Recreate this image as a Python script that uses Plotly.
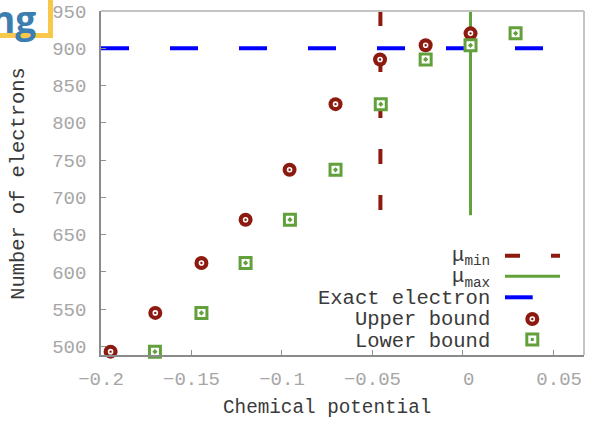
import plotly.graph_objects as go

# ---------------- data ----------------
mu_upper = [-0.1947, -0.1700, -0.1445, -0.1201, -0.0958, -0.0704, -0.0458, -0.0206, 0.0042]
n_upper = [493, 545, 612, 670, 737, 825, 885, 904, 920]
mu_lower = [-0.1702, -0.1445, -0.1201, -0.0956, -0.0704, -0.0454, -0.0206, 0.0042, 0.0291]
n_lower = [493, 545, 612, 670, 737, 825, 885, 904, 920]
mu_min = -0.0456
mu_min_span = [950, 681]
mu_max = 0.0042
mu_max_span = [950, 676]
exact_electrons = 900
x_range = [-0.2, 0.0669]
y_range = [488.5, 950]
x_ticks = [-0.2, -0.15, -0.1, -0.05, 0, 0.05]
x_ticktext = ["\u22120.2", "\u22120.15", "\u22120.1", "\u22120.05", "\u00a00", "\u00a00.05"]
y_ticks = [500, 550, 600, 650, 700, 750, 800, 850, 900, 950]
legend_labels = ["μ<sub>min</sub>", "μ<sub>max</sub>", "Exact electron", "Upper bound", "Lower bound"]

RED = "#8c1a0f"
GREEN = "#62a03c"
BLUE = "#0000ff"
FONT = "Liberation Mono, Courier New, monospace"
TXT = "#3a3a3a"
TICK = "#a6a6a6"

W, H = 615, 423
ML, MR, MT, MB = 101, 31, 11, 68
PW, PH = W - ML - MR, H - MT - MB


def px(xp):
    return (xp - ML) / PW


def py(yp):
    return (H - MB - yp) / PH


fig = go.Figure()

fig.add_trace(go.Scatter(x=[mu_min, mu_min], y=mu_min_span, mode="lines",
                         line=dict(color=RED, width=4, dash="15px,31px"), showlegend=False))
fig.add_trace(go.Scatter(x=[mu_max, mu_max], y=mu_max_span, mode="lines",
                         line=dict(color=GREEN, width=3), showlegend=False))
fig.add_trace(go.Scatter(x=x_range, y=[exact_electrons, exact_electrons], mode="lines",
                         line=dict(color=BLUE, width=4, dash="28px,41px"), showlegend=False))
fig.add_trace(go.Scatter(x=mu_upper, y=n_upper, mode="markers", cliponaxis=False,
                         marker=dict(symbol="circle", size=14, color=RED, line=dict(width=0)),
                         showlegend=False))
fig.add_trace(go.Scatter(x=mu_upper, y=n_upper, mode="markers", cliponaxis=False,
                         marker=dict(symbol="circle-open", size=4, color="white",
                                     line=dict(width=1.6, color="white")),
                         showlegend=False))
fig.add_trace(go.Scatter(x=mu_lower, y=n_lower, mode="markers", cliponaxis=False,
                         marker=dict(symbol="square-dot", size=11, color="white",
                                     line=dict(width=3, color=GREEN)),
                         showlegend=False))

shapes = []
annotations = []
# top / right borders (lighter)
shapes.append(dict(type="line", xref="paper", yref="paper", x0=0, x1=1, y0=1, y1=1,
                   line=dict(color="#c4c4c4", width=2)))
shapes.append(dict(type="line", xref="paper", yref="paper", x0=1, x1=1, y0=0, y1=1,
                   line=dict(color="#c4c4c4", width=2)))

# manual gnuplot-style legend (one right-aligned text block, rows ~21 px apart)
rows = [255.7, 276.3, 297.3, 319, 339.5]
text_right = 491.7
legend_text = "<br>".join("<span style='font-size:20.5px'>%s</span>" % lab for lab in legend_labels)
annotations.append(dict(text=legend_text, xref="paper", yref="paper", x=px(text_right),
                        y=py(sum(rows) / len(rows) + 0.5), xanchor="right", yanchor="middle",
                        align="right", showarrow=False,
                        font=dict(family=FONT, size=16.5, color=TXT)))
shapes.append(dict(type="line", xref="paper", yref="paper", x0=px(505), x1=px(560),
                   y0=py(rows[0]), y1=py(rows[0]), line=dict(color=RED, width=4, dash="15px,31px")))
shapes.append(dict(type="line", xref="paper", yref="paper", x0=px(505), x1=px(560),
                   y0=py(rows[1]), y1=py(rows[1]), line=dict(color=GREEN, width=3)))
shapes.append(dict(type="line", xref="paper", yref="paper", x0=px(505), x1=px(532.7),
                   y0=py(rows[2]), y1=py(rows[2]), line=dict(color=BLUE, width=4)))
cx, cy = 532.3, rows[3]
shapes.append(dict(type="circle", xref="paper", yref="paper", x0=px(cx - 7), x1=px(cx + 7),
                   y0=py(cy + 7), y1=py(cy - 7), fillcolor=RED, line=dict(width=0)))
shapes.append(dict(type="circle", xref="paper", yref="paper", x0=px(cx - 2), x1=px(cx + 2),
                   y0=py(cy + 2), y1=py(cy - 2), line=dict(color="white", width=1.6)))
sx, sy = 532.3, rows[4]
shapes.append(dict(type="rect", xref="paper", yref="paper", x0=px(sx - 5.5), x1=px(sx + 5.5),
                   y0=py(sy + 5.5), y1=py(sy - 5.5), fillcolor="white", line=dict(color=GREEN, width=3)))
shapes.append(dict(type="rect", xref="paper", yref="paper", x0=px(sx - 1.5), x1=px(sx + 1.5),
                   y0=py(sy + 1.5), y1=py(sy - 1.5), fillcolor=GREEN, line=dict(width=0)))

# logo fragment at top-left
shapes.append(dict(type="rect", xref="paper", yref="paper", x0=px(-20), x1=px(50.5),
                   y0=py(35.5), y1=py(-20), fillcolor="white", line=dict(color="#f8c84a", width=5)))
annotations.append(dict(text="<b>ng</b>", xref="paper", yref="paper", x=px(38), y=py(-9),
                        xanchor="right", yanchor="top", showarrow=False,
                        font=dict(family="Open Sans", size=37, color="#3d7eb1")))

# axis titles
annotations.append(dict(text="Chemical potential", xref="paper", yref="paper", x=px(326.5), y=py(408),
                        xanchor="center", yanchor="middle", showarrow=False,
                        font=dict(family=FONT, size=19.3, color=TXT)))
annotations.append(dict(text="Number of electrons", xref="paper", yref="paper", x=px(18.5), y=py(183.3),
                        xanchor="center", yanchor="middle", showarrow=False, textangle=-90,
                        font=dict(family=FONT, size=20.4, color=TXT)))

fig.update_layout(
    width=W, height=H, margin=dict(l=ML, r=MR, t=MT, b=MB, autoexpand=False),
    paper_bgcolor="white", plot_bgcolor="white",
    shapes=shapes, annotations=annotations, showlegend=False,
    xaxis=dict(range=x_range, tickvals=x_ticks, ticktext=x_ticktext, ticks="inside", ticklen=5,
               tickcolor="#909090", automargin=False,
               showline=True, linecolor="#8a8a8a", linewidth=1.5, showgrid=False, zeroline=False,
               tickfont=dict(family=FONT, size=19, color=TICK), ticklabelstandoff=5),
    yaxis=dict(range=y_range, tickvals=y_ticks, ticks="inside", ticklen=5, tickcolor="#909090",
               automargin=False,
               showline=True, linecolor="#8a8a8a", linewidth=1.5, showgrid=False, zeroline=False,
               tickfont=dict(family=FONT, size=19, color=TICK), ticklabelstandoff=9),
)

fig.write_html("out.html")
